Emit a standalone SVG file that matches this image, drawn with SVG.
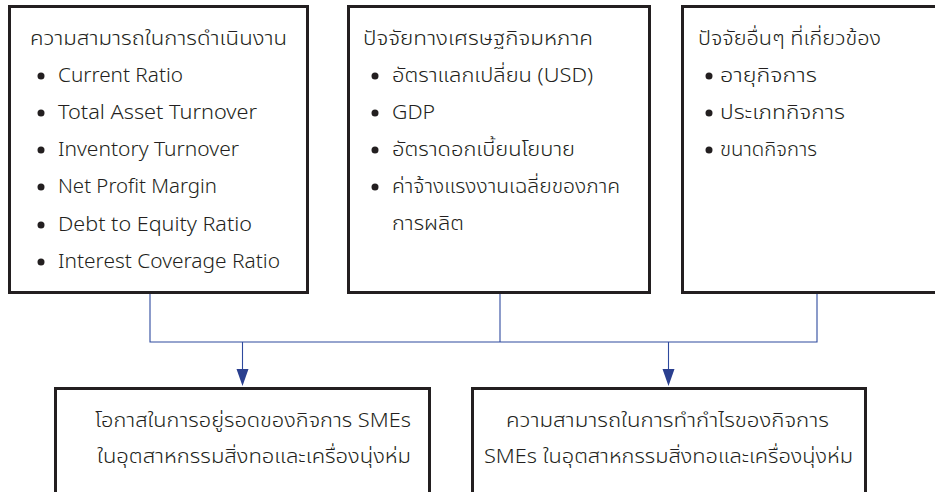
<svg xmlns="http://www.w3.org/2000/svg" width="935" height="492" viewBox="0 0 935 492">
<style>
.box{fill:#fff;stroke:#231f20;stroke-width:3}
.t{font-family:"Noto Sans Thai","Noto Sans","Liberation Sans",sans-serif;font-size:20px;font-weight:300;fill:#231f20}
.c{text-anchor:middle}
.dot{fill:#231f20}
.ln{fill:none;stroke:#2e4a9e;stroke-width:1.1}
.ah{fill:#2a3f8f}
</style>
<rect width="935" height="492" fill="#fff"/>
<g id="connectors">
<path class="ln" d="M150,293 V342 H817 V293"/>
<path class="ln" d="M500,293 V342"/>
<path class="ln" d="M242.5,342 V370"/>
<path class="ln" d="M668.5,342 V370"/>
<path class="ah" d="M236.5,369 L248.5,369 L242.5,386 Z"/>
<path class="ah" d="M662.5,369 L674.5,369 L668.5,386 Z"/>
</g>
<g id="box1">
<rect class="box" x="9.5" y="6.5" width="298" height="286"/>
<text class="t" x="30" y="45" textLength="257" lengthAdjust="spacingAndGlyphs">ความสามารถในการดำเนินงาน</text>
<circle class="dot" cx="41" cy="76" r="3.5"/><text class="t" x="58" y="82" textLength="125" lengthAdjust="spacingAndGlyphs">Current Ratio</text>
<circle class="dot" cx="41" cy="113" r="3.5"/><text class="t" x="58" y="119" textLength="199" lengthAdjust="spacingAndGlyphs">Total Asset Turnover</text>
<circle class="dot" cx="41" cy="150" r="3.5"/><text class="t" x="58" y="156" textLength="181" lengthAdjust="spacingAndGlyphs">Inventory Turnover</text>
<circle class="dot" cx="41" cy="187" r="3.5"/><text class="t" x="58" y="193" textLength="159" lengthAdjust="spacingAndGlyphs">Net Profit Margin</text>
<circle class="dot" cx="41" cy="225" r="3.5"/><text class="t" x="58" y="231" textLength="194" lengthAdjust="spacingAndGlyphs">Debt to Equity Ratio</text>
<circle class="dot" cx="41" cy="262" r="3.5"/><text class="t" x="58" y="268" textLength="222" lengthAdjust="spacingAndGlyphs">Interest Coverage Ratio</text>
</g>
<g id="box2">
<rect class="box" x="348.5" y="6.5" width="301" height="286"/>
<text class="t" x="363" y="45" textLength="230" lengthAdjust="spacingAndGlyphs">ปัจจัยทางเศรษฐกิจมหภาค</text>
<circle class="dot" cx="375" cy="76" r="3.5"/><text class="t" x="392" y="82" textLength="201" lengthAdjust="spacingAndGlyphs">อัตราแลกเปลี่ยน (USD)</text>
<circle class="dot" cx="375" cy="113" r="3.5"/><text class="t" x="392" y="119" textLength="43" lengthAdjust="spacingAndGlyphs">GDP</text>
<circle class="dot" cx="375" cy="150" r="3.5"/><text class="t" x="392" y="156" textLength="183" lengthAdjust="spacingAndGlyphs">อัตราดอกเบี้ยนโยบาย</text>
<circle class="dot" cx="375" cy="187" r="3.5"/><text class="t" x="392" y="193" textLength="228" lengthAdjust="spacingAndGlyphs">ค่าจ้างแรงงานเฉลี่ยของภาค</text>
<text class="t" x="392" y="230" textLength="72" lengthAdjust="spacingAndGlyphs">การผลิต</text>
</g>
<g id="box3">
<rect class="box" x="682.5" y="6.5" width="260" height="286"/>
<text class="t" x="698" y="45" textLength="183" lengthAdjust="spacingAndGlyphs">ปัจจัยอื่นๆ ที่เกี่ยวข้อง</text>
<circle class="dot" cx="709" cy="76" r="3.5"/><text class="t" x="720" y="82" textLength="97" lengthAdjust="spacingAndGlyphs">อายุกิจการ</text>
<circle class="dot" cx="709" cy="113" r="3.5"/><text class="t" x="720" y="119" textLength="125" lengthAdjust="spacingAndGlyphs">ประเภทกิจการ</text>
<circle class="dot" cx="709" cy="150" r="3.5"/><text class="t" x="720" y="156" textLength="97" lengthAdjust="spacingAndGlyphs">ขนาดกิจการ</text>
</g>
<g id="box4">
<rect class="box" x="55.5" y="388.5" width="374" height="120"/>
<text class="t" x="95" y="427" textLength="316" lengthAdjust="spacingAndGlyphs">โอกาสในการอยู่รอดของกิจการ SMEs</text>
<text class="t" x="97" y="463" textLength="314" lengthAdjust="spacingAndGlyphs">ในอุตสาหกรรมสิ่งทอและเครื่องนุ่งห่ม</text>
</g>
<g id="box5">
<rect class="box" x="472.5" y="388.5" width="393" height="120"/>
<text class="t" x="506" y="427" textLength="323" lengthAdjust="spacingAndGlyphs">ความสามารถในการทำกำไรของกิจการ</text>
<text class="t" x="484" y="463" textLength="369" lengthAdjust="spacingAndGlyphs">SMEs ในอุตสาหกรรมสิ่งทอและเครื่องนุ่งห่ม</text>
</g>
</svg>
